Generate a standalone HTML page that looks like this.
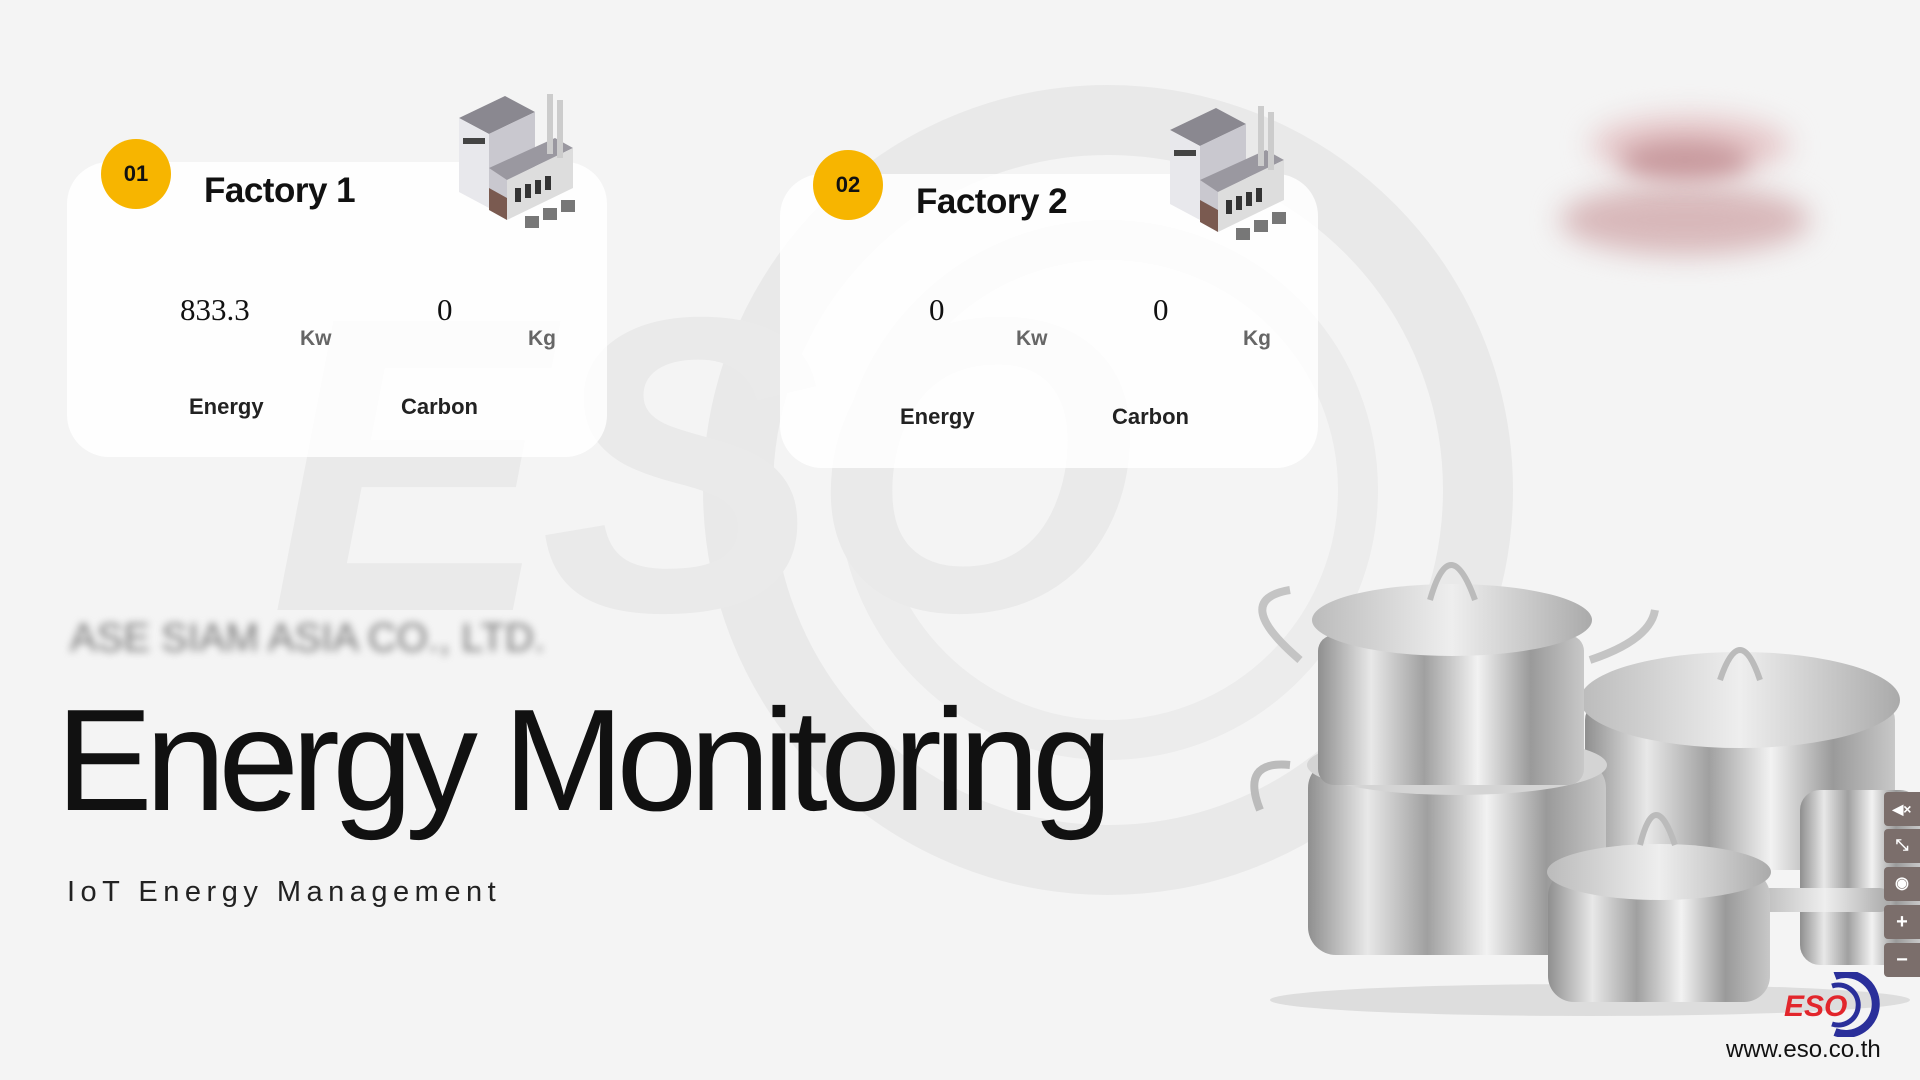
<!DOCTYPE html>
<html><head><meta charset="utf-8"><style>
*{margin:0;padding:0;box-sizing:border-box}
body{width:1920px;height:1080px;overflow:hidden;background:#f4f4f4;font-family:"Liberation Sans",sans-serif;position:relative}
.abs{position:absolute}
.card{position:absolute;background:#fff;border-radius:42px;opacity:.85}
.badge{position:absolute;width:70px;height:70px;border-radius:50%;background:#f7b500;font-weight:bold;font-size:22px;line-height:70px;text-align:center;color:#111}
.title{position:absolute;font-weight:bold;font-size:35px;color:#111;letter-spacing:-0.5px}
.val{position:absolute;font-family:"Liberation Serif",serif;font-size:31px;color:#111}
.unit{position:absolute;font-weight:bold;font-size:21px;color:#666}
.lab{position:absolute;font-weight:bold;font-size:22px;color:#222}
.btn{position:absolute;left:1884px;width:36px;height:34px;background:#7b6e6b;border-radius:4px 0 0 4px;color:#fff;font-size:20px;text-align:center;line-height:34px;font-weight:bold}
</style></head><body>

<svg class="abs" style="left:0;top:0" width="1920" height="1080">
<circle cx="1108" cy="490" r="370" fill="none" stroke="#e9e9e9" stroke-width="70"/>
<circle cx="1108" cy="490" r="250" fill="none" stroke="#ececec" stroke-width="40"/>
<text x="270" y="610" font-family="Liberation Sans" font-weight="bold" font-style="italic" font-size="420" fill="#eaeaea" letter-spacing="-10">ESO</text>
</svg>

<div class="card" style="left:67px;top:162px;width:540px;height:295px"></div>
<div class="card" style="left:780px;top:174px;width:538px;height:294px"></div>

<div class="badge" style="left:101px;top:139px">01</div>
<div class="title" style="left:204px;top:171px">Factory 1</div>
<div class="val" style="left:180px;top:292px">833.3</div>
<div class="unit" style="left:300px;top:327px">Kw</div>
<div class="val" style="left:437px;top:292px">0</div>
<div class="unit" style="left:528px;top:327px">Kg</div>
<div class="lab" style="left:189px;top:394px">Energy</div>
<div class="lab" style="left:401px;top:394px">Carbon</div>

<div class="badge" style="left:813px;top:150px">02</div>
<div class="title" style="left:916px;top:182px">Factory 2</div>
<div class="val" style="left:929px;top:292px">0</div>
<div class="unit" style="left:1016px;top:327px">Kw</div>
<div class="val" style="left:1153px;top:292px">0</div>
<div class="unit" style="left:1243px;top:327px">Kg</div>
<div class="lab" style="left:900px;top:404px">Energy</div>
<div class="lab" style="left:1112px;top:404px">Carbon</div>

<svg class="abs" style="left:455px;top:88px" width="140" height="150" viewBox="0 0 140 150">
<polygon points="4,30 50,8 80,24 34,46" fill="#8a8890"/>
<polygon points="4,30 34,46 34,120 4,104" fill="#e8e8ec"/>
<polygon points="34,46 80,24 80,98 34,120" fill="#c9c8cf"/>
<rect x="8" y="50" width="22" height="6" fill="#444"/>
<polygon points="34,80 100,50 118,60 52,92" fill="#9a98a0"/>
<polygon points="52,92 118,60 118,100 52,132" fill="#ddd"/>
<rect x="60" y="100" width="6" height="14" fill="#333"/><rect x="70" y="96" width="6" height="14" fill="#333"/><rect x="80" y="92" width="6" height="14" fill="#333"/><rect x="90" y="88" width="6" height="14" fill="#333"/>
<polygon points="34,100 52,110 52,132 34,122" fill="#7a5a50"/>
<rect x="92" y="6" width="6" height="60" fill="#ccc"/><rect x="102" y="12" width="6" height="58" fill="#ccc"/>
<rect x="70" y="128" width="14" height="12" fill="#777"/><rect x="88" y="120" width="14" height="12" fill="#777"/><rect x="106" y="112" width="14" height="12" fill="#777"/>
</svg>
<svg class="abs" style="left:1166px;top:100px" width="140" height="150" viewBox="0 0 140 150">
<polygon points="4,30 50,8 80,24 34,46" fill="#8a8890"/>
<polygon points="4,30 34,46 34,120 4,104" fill="#e8e8ec"/>
<polygon points="34,46 80,24 80,98 34,120" fill="#c9c8cf"/>
<rect x="8" y="50" width="22" height="6" fill="#444"/>
<polygon points="34,80 100,50 118,60 52,92" fill="#9a98a0"/>
<polygon points="52,92 118,60 118,100 52,132" fill="#ddd"/>
<rect x="60" y="100" width="6" height="14" fill="#333"/><rect x="70" y="96" width="6" height="14" fill="#333"/><rect x="80" y="92" width="6" height="14" fill="#333"/><rect x="90" y="88" width="6" height="14" fill="#333"/>
<polygon points="34,100 52,110 52,132 34,122" fill="#7a5a50"/>
<rect x="92" y="6" width="6" height="60" fill="#ccc"/><rect x="102" y="12" width="6" height="58" fill="#ccc"/>
<rect x="70" y="128" width="14" height="12" fill="#777"/><rect x="88" y="120" width="14" height="12" fill="#777"/><rect x="106" y="112" width="14" height="12" fill="#777"/>
</svg>

<div class="abs" style="left:1560px;top:185px;width:250px;height:70px;border-radius:50%;background:#d8b8ba;filter:blur(14px)"></div>
<div class="abs" style="left:1590px;top:115px;width:200px;height:60px;border-radius:50%;background:#e6c8ca;filter:blur(14px)"></div>
<div class="abs" style="left:1620px;top:140px;width:130px;height:40px;border-radius:50%;background:#c89a9e;filter:blur(12px)"></div>

<div class="abs" style="left:70px;top:616px;font-size:40px;color:#777;filter:blur(4px);white-space:nowrap">ASE SIAM ASIA CO., LTD.</div>

<div class="abs" style="left:56px;top:688px;font-size:145px;color:#111;letter-spacing:-7.5px;white-space:nowrap;line-height:1">Energy Monitoring</div>
<div class="abs" style="left:67px;top:876px;font-size:29px;color:#222;letter-spacing:5.5px">IoT Energy Management</div>

<svg class="abs" style="left:1230px;top:540px" width="690" height="480" viewBox="1230 540 690 480">
<defs>
<linearGradient id="m" x1="0" x2="1"><stop offset="0" stop-color="#8f8f8f"/><stop offset=".2" stop-color="#e8e8e8"/><stop offset=".4" stop-color="#a0a0a0"/><stop offset=".6" stop-color="#f2f2f2"/><stop offset=".8" stop-color="#9a9a9a"/><stop offset="1" stop-color="#c8c8c8"/></linearGradient>
<linearGradient id="l" x1="0" x2="1"><stop offset="0" stop-color="#bbb"/><stop offset=".5" stop-color="#eee"/><stop offset="1" stop-color="#aaa"/></linearGradient>
</defs>
<ellipse cx="1590" cy="1000" rx="320" ry="16" fill="#ddd"/>
<rect x="1585" y="700" width="310" height="170" rx="20" fill="url(#m)"/>
<ellipse cx="1740" cy="700" rx="160" ry="48" fill="url(#l)"/>
<path d="M1720 680 q20 -60 40 0" stroke="#bbb" stroke-width="6" fill="none"/>
<rect x="1800" y="790" width="120" height="175" rx="20" fill="url(#m)"/>
<path d="M1260 810 q-20 -50 30 -45" stroke="#bbb" stroke-width="8" fill="none"/>
<rect x="1308" y="760" width="298" height="195" rx="28" fill="url(#m)"/>
<ellipse cx="1457" cy="765" rx="150" ry="30" fill="#d4d4d4"/>
<path d="M1300 660 q-70 -60 -10 -70" stroke="#c4c4c4" stroke-width="8" fill="none"/>
<path d="M1590 660 q60 -20 65 -50" stroke="#c4c4c4" stroke-width="8" fill="none"/>
<rect x="1318" y="635" width="266" height="150" rx="16" fill="url(#m)"/>
<ellipse cx="1452" cy="620" rx="140" ry="36" fill="url(#l)"/>
<path d="M1430 600 q20 -70 45 0" stroke="#bbb" stroke-width="6" fill="none"/>
<rect x="1760" y="888" width="130" height="24" rx="10" fill="url(#l)"/>
<rect x="1548" y="870" width="222" height="132" rx="26" fill="url(#m)"/>
<ellipse cx="1659" cy="872" rx="112" ry="28" fill="url(#l)"/>
<path d="M1640 845 q15 -60 35 0" stroke="#bbb" stroke-width="6" fill="none"/>
</svg>

<div class="btn" style="top:792px;font-size:14px">◀×</div>
<div class="btn" style="top:829px;font-size:16px">⤡</div>
<div class="btn" style="top:867px;font-size:16px">◉</div>
<div class="btn" style="top:905px">+</div>
<div class="btn" style="top:943px">−</div>

<svg class="abs" style="left:1780px;top:972px" width="100" height="65">
<path d="M55 4 a30 30 0 1 1 0 56" stroke="#2a2f9a" stroke-width="8" fill="none"/>
<path d="M52 14 a20 20 0 1 1 0 38" stroke="#2a2f9a" stroke-width="5" fill="none"/>
<text x="4" y="44" font-family="Liberation Sans" font-weight="bold" font-style="italic" font-size="30" fill="#e2262c">ESO</text>
</svg>
<div class="abs" style="left:1726px;top:1036px;font-size:24px;color:#111">www.eso.co.th</div>
</body></html>
